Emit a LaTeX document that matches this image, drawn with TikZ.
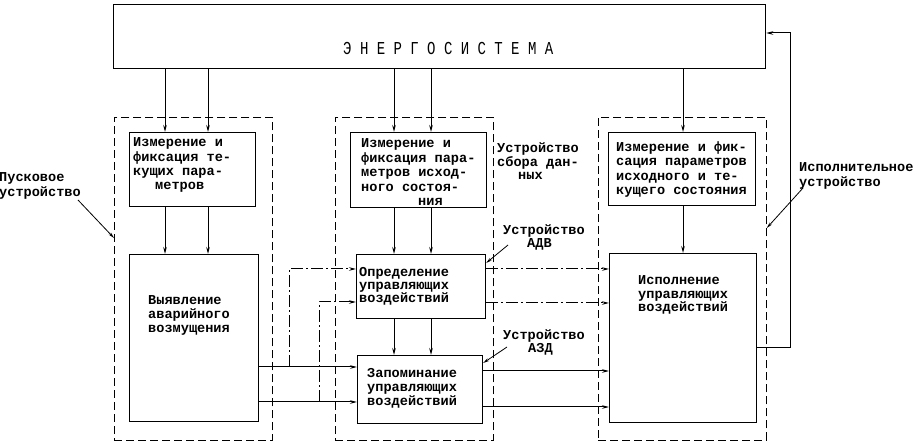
\documentclass[tikz,border=0pt]{standalone}
\usepackage{fontspec}
\usepackage{graphicx}
\setmainfont{Liberation Mono}
\usetikzlibrary{arrows.meta}
\begin{document}
\begin{tikzpicture}[x=1pt,y=-1pt,
  blk/.style={draw, line width=1.2pt, inner sep=0, anchor=north west},
  grp/.style={draw, line width=0.8pt, dash pattern=on 8pt off 4pt, inner sep=0, anchor=north west},
  txt/.style={inner sep=0, anchor=base west, align=left, font=\fontsize{13.6pt}{14.4pt}\selectfont\bfseries},
  arr/.style={line width=1pt, -{Stealth[length=7pt,width=3.5pt]}},
  dd/.style={arr, dash pattern=on 12pt off 3pt on 2pt off 3pt},
  ptr/.style={line width=0.8pt, -{Stealth[length=6pt,width=3pt]}}]
\useasboundingbox (0,0) rectangle (919,443);
\fill[white] (0,0) rectangle (919,443);
% main system
\node[blk, minimum width=652pt, minimum height=64pt] (es) at (113,4) {};
\node[inner sep=0, anchor=base west, font=\fontsize{14pt}{14pt}\selectfont] (tes) at (343,55) {\scalebox{1}[1.3]{Э Н Е Р Г О С И С Т Е М А}};
% groups
\node[grp, minimum width=158pt, minimum height=323pt] (g1) at (114,117) {};
\node[grp, minimum width=158pt, minimum height=323pt] (g2) at (335,117) {};
\node[grp, minimum width=168pt, minimum height=323pt] (g3) at (598,117) {};
% blocks
\node[blk, minimum width=126pt, minimum height=74pt] (m1) at (129,132) {};
\node[blk, minimum width=136pt, minimum height=75pt] (m2) at (350,132) {};
\node[blk, minimum width=147pt, minimum height=73pt] (m3) at (608,132) {};
\node[blk, minimum width=129pt, minimum height=167pt] (vy) at (129,254) {};
\node[blk, minimum width=129pt, minimum height=64pt] (op) at (356,254) {};
\node[blk, minimum width=125pt, minimum height=68pt] (za) at (357,355) {};
\node[blk, minimum width=147pt, minimum height=169pt] (is) at (609,253) {};
% block texts (anchor = baseline of last line)
\node[txt] (t1) at (133,190) {Измерение и\\фиксация те-\\кущих пара-\\\hspace*{22pt}метров};
\node[txt, font=\fontsize{13.6pt}{14.6pt}\selectfont\bfseries] (t2) at (361,206) {Измерение и\\фиксация пара-\\метров исход-\\ного состоя-\\\hspace*{57pt}ния};
\node[txt, font=\fontsize{13.6pt}{14.6pt}\selectfont\bfseries] (t3) at (616,195) {Измерение и фик-\\сация параметров\\исходного и те-\\кущего состояния};
\node[txt, font=\fontsize{13.6pt}{14pt}\selectfont\bfseries] (t4) at (148,333) {Выявление\\аварийного\\возмущения};
\node[txt, font=\fontsize{13.6pt}{13.2pt}\selectfont\bfseries] (t5) at (359,303) {Определение\\управляющих\\воздействий};
\node[txt, font=\fontsize{13.6pt}{14pt}\selectfont\bfseries] (t6) at (367,406) {Запоминание\\управляющих\\воздействий};
\node[txt, font=\fontsize{13.6pt}{13.5pt}\selectfont\bfseries] (t7) at (638,312) {Исполнение\\управляющих\\воздействий};
% labels
\node[txt, font=\fontsize{13.6pt}{15pt}\selectfont\bfseries] (l1) at (-1,197) {Пусковое\\устройство};
\node[txt, font=\fontsize{13.6pt}{13.8pt}\selectfont\bfseries] (l2) at (497,180) {Устройство\\сбора дан-\\\hspace*{21pt}ных};
\node[txt, font=\fontsize{13.6pt}{13pt}\selectfont\bfseries] (l3) at (503,248) {Устройство\\\hspace*{24pt}АДВ};
\node[txt, font=\fontsize{13.6pt}{13pt}\selectfont\bfseries] (l4) at (503,353) {Устройство\\\hspace*{25pt}АЗД};
\node[txt, font=\fontsize{13.6pt}{15pt}\selectfont\bfseries] (l5) at (799,187) {Исполнительное\\устройство};
% vertical flows
\foreach \x in {165,208} {
  \draw[arr] (\x,0 |- es.south) -- (\x,0 |- m1.north);
  \draw[arr] (\x,0 |- m1.south) -- (\x,0 |- vy.north);
}
\foreach \x in {394,431} {
  \draw[arr] (\x,0 |- es.south) -- (\x,0 |- m2.north);
  \draw[arr] (\x,0 |- m2.south) -- (\x,0 |- op.north);
  \draw[arr] (\x,0 |- op.south) -- (\x,0 |- za.north);
}
\draw[arr] (683,0 |- es.south) -- (683,0 |- m3.north);
\draw[arr] (683,0 |- m3.south) -- (683,0 |- is.north);
% horizontal flows
\coordinate (b1) at (289,367);
\coordinate (b2) at (319,402);
\draw[arr] (vy.east |- b1) -- (za.west |- b1);
\draw[dd] (b1) -- (289,269) -- (op.west |- 0,269);
\draw[arr] (vy.east |- b2) -- (za.west |- b2);
\draw[dd] (b2) -- (319,302) -- (op.west |- 0,302);
\draw[dd] (op.east |- 0,269) -- (is.west |- 0,269);
\draw[dd] (op.east |- 0,303) -- (is.west |- 0,303);
\draw[arr] (za.east |- 0,371) -- (is.west |- 0,371);
\draw[arr] (za.east |- 0,407) -- (is.west |- 0,407);
% feedback
\draw[arr] (is.east |- 0,348) -- (790,348) -- (790,33) -- (es.east |- 0,33);
% pointers
\coordinate (p1) at (78,200);
\coordinate (p3) at (508,245);
\coordinate (p4) at (507,347);
\coordinate (p5) at (803,188);
\draw[ptr] (p1) -- (g1.west |- 0,238);
\draw[ptr] (p3) -- (op.east |- 0,263);
\draw[ptr] (p4) -- (za.east |- 0,363);
\draw[ptr] (p5) -- (g3.east |- 0,228);
\end{tikzpicture}
\end{document}
